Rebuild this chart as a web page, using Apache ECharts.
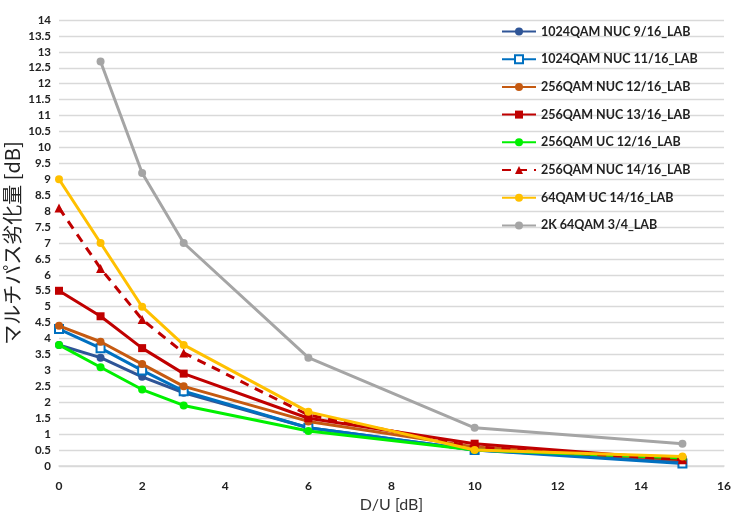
<!DOCTYPE html>
<html><head><meta charset="utf-8">
<script src="https://cdn.jsdelivr.net/npm/echarts@6/dist/echarts.min.js"></script>
<style>html,body{margin:0;padding:0;background:#fff}#c{width:738px;height:513px}</style>
</head><body><div id="c"></div>
<script>
const xValues = [0, 1, 2, 3, 6, 10, 15];
const names = ["1024QAM NUC 9/16_LAB","1024QAM NUC 11/16_LAB","256QAM NUC 12/16_LAB","256QAM NUC 13/16_LAB","256QAM UC 12/16_LAB","256QAM NUC 14/16_LAB","64QAM UC 14/16_LAB","2K 64QAM 3/4_LAB"];
const s1024_9_16  = [3.8, 3.4, 2.8, 2.3, 1.2, 0.5, 0.15];
const s1024_11_16 = [4.3, 3.7, 3.0, 2.35, 1.2, 0.5, 0.08];
const s256_12_16  = [4.4, 3.9, 3.2, 2.5, 1.4, 0.6, 0.2];
const s256_13_16  = [5.5, 4.7, 3.7, 2.9, 1.5, 0.7, 0.2];
const s256uc_12_16= [3.8, 3.1, 2.4, 1.9, 1.1, 0.5, 0.25];
const s256_14_16  = [8.1, 6.2, 4.6, 3.55, 1.6, 0.6, 0.2];
const s64uc_14_16 = [9.0, 7.0, 5.0, 3.8, 1.7, 0.5, 0.3];
const s2k_64_3_4  = [null, 12.7, 9.2, 7.0, 3.4, 1.2, 0.7];

const seriesValues = [s1024_9_16, s1024_11_16, s256_12_16, s256_13_16, s256uc_12_16, s256_14_16, s64uc_14_16, s2k_64_3_4];
const colors = ["#2F5597","#0070C0","#C55A11","#C00000","#00F000","#C00000","#FFC000","#A5A5A5"];
const symbols = ["circle","emptyRect","circle","rect","circle","triangle","circle","circle"];
const dashed = [false,false,false,false,false,true,false,false];

function pairs(vals){ const out=[]; for(let i=0;i<xValues.length;i++){ if(vals[i]!==null) out.push([xValues[i], vals[i]]);} return out; }

const series = names.map((n,i)=>({
  name:n, type:'line', data:pairs(seriesValues[i]),
  symbol:symbols[i], symbolSize: symbols[i]==='circle'?8:(symbols[i]==='triangle'?9:8),
  showAllSymbol:true,
  lineStyle:{color:colors[i], width:3, type: dashed[i]?[9,7]:'solid'},
  itemStyle:{color:colors[i], borderColor:colors[i], borderWidth: symbols[i]==='emptyRect'?1.5:0},
  emphasis:{disabled:true},
  animation:false, z: 2+i
}));

const FONT = 'Lato,"Open Sans",sans-serif';
const chart = echarts.init(document.getElementById('c'));
chart.setOption({
  backgroundColor:'#fff',
  animation:false,
  grid:{left:59, right:14, top:20, bottom:47, containLabel:false, outerBoundsMode:'none'},
  legend:{
    orient:'vertical', left:496, top:20, itemGap:14.7, itemWidth:34, itemHeight:10,
    textStyle:{fontFamily:FONT, fontWeight:'bold', fontSize:12.5, color:'#222'},
    data:names
  },
  xAxis:{
    type:'value', min:0, max:16, interval:2,
    name:'D/U [dB]', nameLocation:'middle', nameGap:30,
    nameTextStyle:{fontFamily:FONT, fontSize:16, color:'#333'},
    axisLine:{show:true, lineStyle:{color:'#D9D9D9', width:1.5}}, axisTick:{show:false},
    axisLabel:{fontFamily:FONT, fontWeight:'bold', fontSize:12, color:'#222', margin:14},
    splitLine:{show:false}
  },
  yAxis:{
    type:'value', min:0, max:14, interval:0.5,
    name:'マルチパス劣化量 [dB]', nameLocation:'middle', nameGap:37, nameRotate:90, nameMoveOverlap:false,
    nameTextStyle:{fontFamily:'"Noto Sans CJK JP",sans-serif', fontSize:20, color:'#222'},
    axisLine:{show:false}, axisTick:{show:false},
    axisLabel:{fontFamily:FONT, fontWeight:'bold', fontSize:11.5, color:'#222', margin:8},
    splitLine:{lineStyle:{color:'#D9D9D9', width:1.3}}
  },
  series:series
});
</script></body></html>
